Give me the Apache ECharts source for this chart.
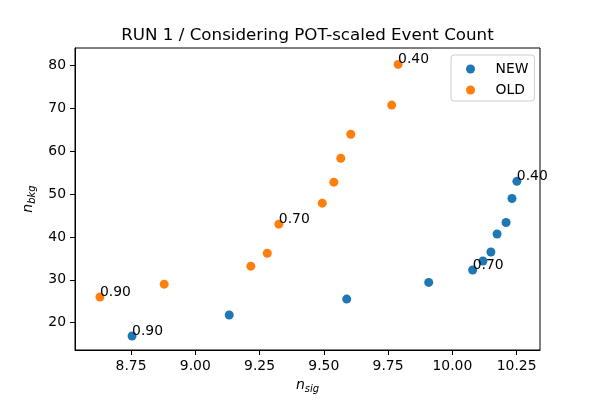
<!DOCTYPE html>
<html>
<head>
<meta charset="utf-8">
<script src="https://cdn.jsdelivr.net/npm/echarts@6/dist/echarts.min.js"></script>
<style>
  html, body { margin: 0; padding: 0; background: #fff; }
  #chart { width: 600px; height: 400px; }
</style>
</head>
<body>
<div id="chart"></div>
<script>
// RUN 1 — n_sig vs n_bkg, POT-scaled, per cut threshold
const newSig = [8.754, 9.132, 9.589, 9.908, 10.079, 10.119, 10.150, 10.174, 10.209, 10.232, 10.251];
const newBkg = [16.9, 21.8, 25.5, 29.4, 32.3, 34.4, 36.5, 40.7, 43.4, 49.0, 53.0];
const oldSig = [8.629, 8.879, 9.216, 9.280, 9.325, 9.494, 9.539, 9.566, 9.605, 9.764, 9.789];
const oldBkg = [26.0, 29.0, 33.2, 36.2, 43.0, 47.9, 52.8, 58.4, 64.0, 70.8, 80.3];
// annotated cut values (blank = no text)
const cutLabels = ['0.90', '', '', '', '0.70', '', '', '', '', '', '0.40'];

const xTicks = [8.75, 9.00, 9.25, 9.50, 9.75, 10.00, 10.25];
const yTicks = [20, 30, 40, 50, 60, 70, 80];

const FONT = 'DejaVu Sans';
const BLUE = '#1f77b4', ORANGE = '#ff7f0e';

const pairs = (xs, ys) => xs.map((x, i) => [x, ys[i]]);

const subRich = {
  n: { fontFamily: FONT, fontSize: 14, fontStyle: 'italic', color: '#000' },
  s: { fontFamily: FONT, fontSize: 10, fontStyle: 'italic', color: '#000', padding: [8, 0, 0, 0] },
};

function scatter(name, xs, ys, color) {
  return {
    name, type: 'scatter', data: pairs(xs, ys),
    symbol: 'circle', symbolSize: 9,
    itemStyle: { color, opacity: 1 },
    label: {
      show: true, position: [4.5, 6.5], align: 'left', verticalAlign: 'bottom',
      formatter: p => cutLabels[p.dataIndex],
      fontFamily: FONT, fontSize: 13.9, color: '#000',
    },
    emphasis: { disabled: true },
  };
}

const chart = echarts.init(document.getElementById('chart'), null, { renderer: 'canvas' });
chart.setOption({
  animation: false,
  backgroundColor: '#fff',
  title: {
    text: 'RUN 1 / Considering POT-scaled Event Count',
    left: 302.5, top: 22, textAlign: 'center',
    textStyle: { fontFamily: FONT, fontSize: 16.7, fontWeight: 'normal', color: '#000' },
  },
  legend: {
    orient: 'vertical', left: 451, top: 55,
    padding: [7, 6, 4, 15], itemGap: 7, itemWidth: 20, itemHeight: 9,
    icon: 'circle',
    borderColor: '#cccccc', borderWidth: 1, borderRadius: 3,
    backgroundColor: 'rgba(255,255,255,0.8)',
    textStyle: { fontFamily: FONT, fontSize: 13.9, lineHeight: 14, color: '#000', padding: [0, 0, 0, 10] },
    data: ['NEW', 'OLD'],
  },
  grid: {
    left: 75, right: 60, top: 48, bottom: 50,
    show: true, borderColor: '#000', borderWidth: 1, backgroundColor: '#fff',
  },
  xAxis: {
    type: 'value', min: 8.532, max: 10.341,
    name: '{n|n}{s|sig}', nameLocation: 'middle', nameGap: 26,
    nameTextStyle: { rich: subRich },
    axisLine: { show: true, onZero: false, lineStyle: { color: '#000', width: 1 } },
    axisTick: { show: true, length: 5, lineStyle: { color: '#000' }, customValues: xTicks },
    axisLabel: {
      customValues: xTicks, formatter: v => v.toFixed(2), margin: 9,
      fontFamily: FONT, fontSize: 13.9, color: '#000',
    },
    splitLine: { show: false },
  },
  yAxis: {
    type: 'value', min: 13.62, max: 84.13,
    name: '{n|n}{s|bkg}', nameLocation: 'middle', nameGap: 34, nameRotate: 90,
    nameTextStyle: { rich: subRich },
    axisLine: { show: true, onZero: false, lineStyle: { color: '#000', width: 1 } },
    axisTick: { show: true, length: 5, lineStyle: { color: '#000' }, customValues: yTicks },
    axisLabel: {
      customValues: yTicks, formatter: v => String(v), margin: 9,
      fontFamily: FONT, fontSize: 13.9, color: '#000',
    },
    splitLine: { show: false },
  },
  series: [
    scatter('NEW', newSig, newBkg, BLUE),
    scatter('OLD', oldSig, oldBkg, ORANGE),
  ],
});
</script>
</body>
</html>
